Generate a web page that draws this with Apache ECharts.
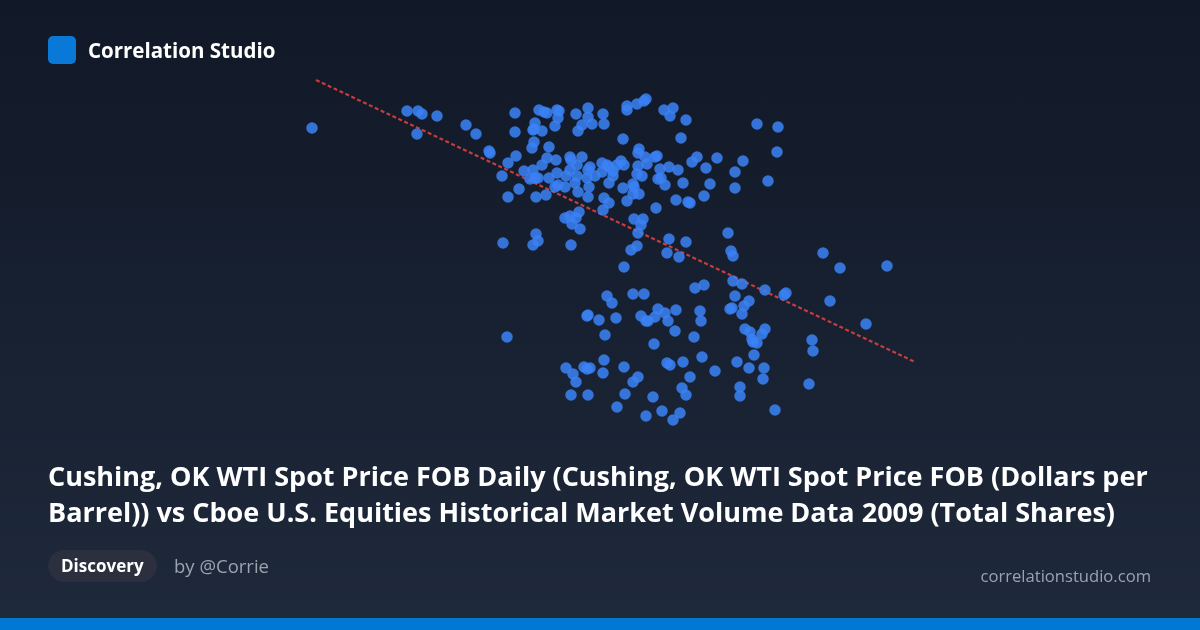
<!DOCTYPE html>
<html><head><meta charset="utf-8">
<script src="https://cdn.jsdelivr.net/npm/echarts@6/dist/echarts.min.js"></script>
<style>
html,body{margin:0;padding:0;width:1200px;height:630px;overflow:hidden;}
body{background:linear-gradient(180deg,#111827 0%,#1e293b 100%);font-family:"Open Sans","Noto Sans",sans-serif;position:relative;}
#chart{position:absolute;left:0;top:0;width:1200px;height:630px;}
.logo{position:absolute;left:48px;top:36px;width:28px;height:28px;border-radius:5px;background:#0a78d6;}
.brand{position:absolute;left:88px;top:36px;line-height:28px;font-size:20.5px;font-weight:700;color:#fff;}
.title{position:absolute;left:48px;top:458px;width:1125px;font-size:27px;line-height:36px;font-weight:700;color:#fff;}
.pill{position:absolute;left:48px;top:550px;height:32px;padding:0 13px;border-radius:16px;background:#2b2f3e;color:#fff;font-weight:700;font-size:17px;line-height:32px;}
.by{position:absolute;left:174px;top:550px;line-height:32px;font-size:18.5px;color:#9ca3af;}
.site{position:absolute;right:49px;top:562px;line-height:28px;font-size:16.6px;color:#9ca3af;}
.bar{position:absolute;left:0;top:618px;width:1200px;height:12px;background:#0078d4;}
</style></head>
<body>
<div id="chart"></div>
<div class="logo"></div>
<div class="brand">Correlation Studio</div>
<div class="title">Cushing, OK WTI Spot Price FOB Daily (Cushing, OK WTI Spot Price FOB (Dollars per Barrel)) vs Cboe U.S. Equities Historical Market Volume Data 2009 (Total Shares)</div>
<div class="pill">Discovery</div>
<div class="by">by @Corrie</div>
<div class="site">correlationstudio.com</div>
<div class="bar"></div>
<script>
// WTI spot price (x) and market volume (y, arbitrary scaled units)
const wtiPrice = [31.2,40.7,41.8,42.2,43.7,41.7,46.6,47.6,48.9,49.0,50.2,50.3,51.5,53.9,54.4,54.7,55.7,55.9,55.8,55.5,57.6,58.8,58.8,59.2,58.2,57.8,60.3,60.4,62.7,62.7,63.7,64.4,64.6,51.5,53.5,53.4,53.3,54.2,53.4,53.2,54.9,62.3,51.6,50.8,52.4,53.3,54.2,54.7,55.6,57.0,57.1,58.2,53.0,53.5,53.8,54.9,55.7,56.6,57.0,57.7,57.7,57.5,58.8,59.0,58.7,59.5,60.2,60.7,60.9,61.3,61.3,61.7,62.1,62.4,60.2,60.9,55.5,55.8,56.5,51.9,57.8,58.9,50.8,53.6,54.6,58.8,60.4,60.9,62.3,62.7,63.3,63.4,63.3,63.9,63.9,63.8,63.7,64.2,63.8,64.5,64.7,60.3,56.5,57.0,57.6,57.9,57.2,58.0,63.4,64.3,64.1,63.8,53.6,53.8,53.3,57.1,63.7,63.1,66.4,67.3,67.0,68.6,68.1,75.7,77.8,77.7,65.5,65.7,66.0,66.9,67.8,69.2,69.7,71.7,70.6,74.3,73.5,76.8,65.8,66.1,66.5,68.3,71.0,73.5,67.6,68.8,69.0,70.4,65.6,72.8,66.9,68.6,66.7,67.9,73.1,73.3,82.3,62.4,60.7,61.2,63.3,64.4,58.7,58.8,59.9,61.6,64.1,64.6,64.8,50.7,60.5,56.6,57.3,57.6,58.4,58.7,59.0,60.3,60.4,62.4,63.8,63.3,57.1,58.8,62.5,61.7,64.6,69.5,70.4,73.3,74.2,76.5,78.4,78.6,73.5,74.9,74.4,74.2,73.0,73.2,65.5,65.8,66.5,66.8,67.6,70.0,70.1,67.5,69.4,65.4,74.5,75.0,76.5,76.2,75.2,75.3,75.7,75.4,73.7,74.9,76.4,76.3,66.7,67.0,68.3,70.2,71.5,69.0,68.2,68.6,74.0,74.0,65.3,66.2,67.3,68.0,77.5,84.0,88.7,83.0,86.6,81.2,81.3,80.9];
const volume = [50.2,51.9,51.9,51.6,51.4,49.6,50.5,49.6,47.9,47.7,45.4,38.7,51.7,52.0,51.8,51.7,52.0,51.9,51.2,50.4,51.6,52.2,51.3,50.6,50.5,49.9,51.6,50.6,52.4,52.0,52.6,52.9,53.1,49.8,50.7,50.1,50.0,49.9,48.8,48.2,48.3,49.1,47.4,46.7,45.9,46.0,46.5,47.2,47.0,47.3,47.0,47.3,45.1,45.2,45.2,45.2,45.7,45.4,46.0,46.5,45.4,44.7,46.0,46.3,45.2,45.4,46.7,46.5,46.3,45.9,45.4,46.5,46.9,46.5,45.8,44.7,44.3,44.5,44.3,44.1,43.8,44.3,43.3,43.3,43.5,43.3,43.2,42.7,44.2,42.9,44.6,44.3,43.6,43.6,48.1,47.7,45.6,45.4,46.4,47.3,46.6,42.0,41.2,41.4,41.2,41.8,40.6,40.1,41.1,41.1,40.5,39.7,39.6,38.9,38.5,38.5,38.4,38.0,52.0,52.2,51.4,51.0,49.2,50.6,50.3,47.8,47.3,47.4,46.1,46.3,46.0,46.8,47.3,47.2,46.2,46.9,45.8,44.9,45.1,45.2,44.5,44.7,44.6,44.2,43.0,42.8,42.7,43.4,42.2,39.7,39.1,38.8,37.7,37.3,37.9,37.4,37.7,36.3,33.4,32.7,33.6,33.6,31.4,31.5,31.0,31.2,31.4,30.9,30.9,29.3,29.5,26.2,25.6,24.8,26.3,26.1,26.2,25.7,27.0,26.3,25.3,24.8,23.5,23.5,23.6,22.3,21.4,34.2,34.5,34.9,34.6,34.0,33.5,33.7,33.4,32.9,32.4,31.6,32.1,32.2,31.3,32.1,31.7,30.9,32.0,31.9,30.9,29.9,29.3,28.6,30.1,29.8,30.1,29.6,29.1,28.8,28.7,27.5,26.8,26.2,26.2,25.1,26.7,26.5,26.8,27.3,25.9,25.3,24.2,23.5,24.3,23.4,23.3,21.9,21.0,21.7,22.0,36.2,36.4,32.9,30.6,29.0,27.9,24.6];
// trend line endpoints (x, y)
const trendX = [31.6, 91.5];
const trendY = [55.0, 26.8];

const points = wtiPrice.map((x, i) => [x, volume[i]]);
const chart = echarts.init(document.getElementById('chart'), null, {renderer: 'canvas'});
chart.setOption({
  backgroundColor: 'transparent',
  animation: false,
  grid: {left: 300, top: 70, width: 650, height: 360},
  xAxis: {type: 'value', min: 30, max: 95, show: false},
  yAxis: {type: 'value', min: 20, max: 56, show: false},
  series: [
    {
      type: 'line',
      data: trendX.map((x, i) => [x, trendY[i]]),
      symbol: 'none',
      lineStyle: {color: '#d9403f', width: 2.2, type: [4, 2.5], opacity: 0.9},
      z: 1
    },
    {
      type: 'scatter',
      data: points,
      symbolSize: 11.5,
      itemStyle: {color: '#3b82f6', opacity: 0.85},
      z: 2
    }
  ]
});
</script>
</body></html>
